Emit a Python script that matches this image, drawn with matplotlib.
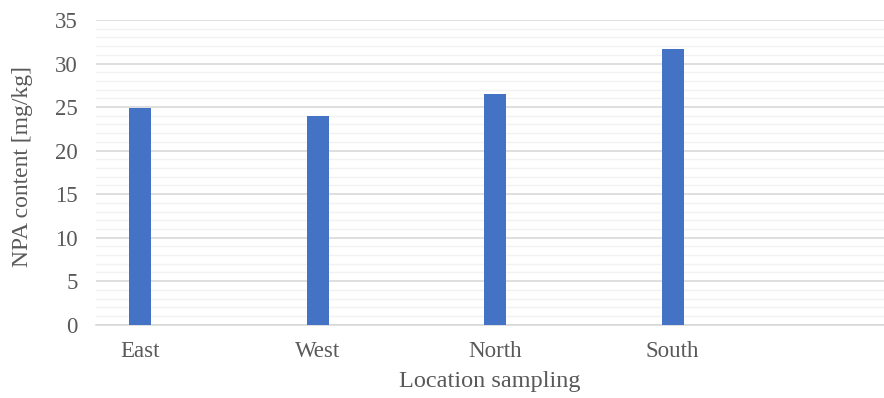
import matplotlib.pyplot as plt
import numpy as np

sites = ["East", "West", "North", "South"]
npa = [24.9, 24.0, 26.5, 31.7]

plt.rcParams['font.family'] = ['Liberation Serif', 'DejaVu Serif']
txt = '#595959'

fig = plt.figure(figsize=(8.84, 3.98), dpi=100)
ax = fig.add_axes([96/884, (398-324.7)/398, 788/884, 304.7/398])

x = np.arange(len(sites))
ax.bar(x, npa, width=0.124, color='#4472c4', zorder=3)

ax.set_xlim(-0.248, 4.19)
ax.set_ylim(0, 35)
ax.set_yticks(np.arange(0, 36, 5))
ax.set_yticks(np.arange(0, 36, 1), minor=True)
ax.grid(axis='y', which='major', color='#d9d9d9', lw=1.2, zorder=1)
ax.grid(axis='y', which='minor', color='#f2f2f2', lw=1.0, zorder=0)
ax.set_xticks(x)
ax.set_xticklabels(sites)
ax.tick_params(which='both', length=0, labelsize=16.5, colors=txt)
ax.tick_params(axis='y', pad=13)
ax.tick_params(axis='x', pad=12)
for s in ['top', 'right', 'left']:
    ax.spines[s].set_visible(False)
ax.spines['bottom'].set_color('#d9d9d9')
ax.spines['bottom'].set_linewidth(1.2)

ax.set_ylabel("NPA content [mg/kg]", fontsize=17, color=txt)
ax.yaxis.set_label_coords(-0.080, 0.52)
ax.set_xlabel("Location sampling", fontsize=17.5, color=txt, labelpad=6)

fig.savefig("out.png", dpi=100)
